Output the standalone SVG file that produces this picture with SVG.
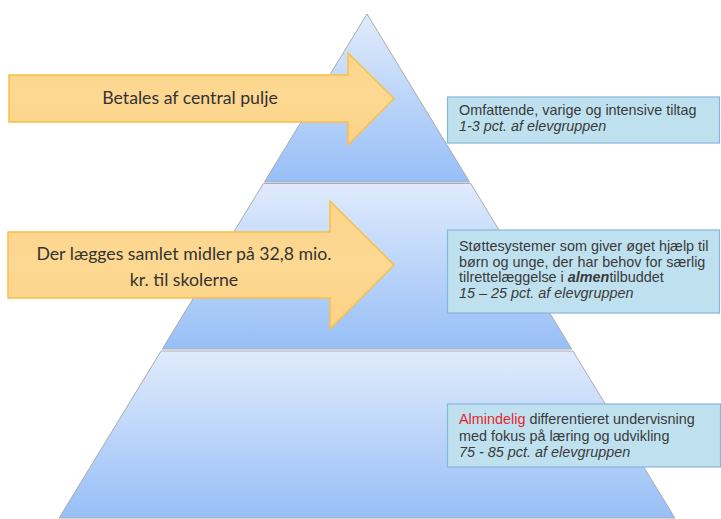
<svg xmlns="http://www.w3.org/2000/svg" width="721" height="519" viewBox="0 0 721 519">
<defs>
<linearGradient id="tierGrad" x1="0" y1="0" x2="0" y2="1">
<stop offset="0" stop-color="#e0ebfc"/>
<stop offset="1" stop-color="#97bff7"/>
</linearGradient>
<linearGradient id="arrowGrad" x1="0" y1="0" x2="0" y2="1">
<stop offset="0" stop-color="#fdd58c"/>
<stop offset="0.5" stop-color="#fdd892"/>
<stop offset="1" stop-color="#fcd184"/>
</linearGradient>
<style>
.tier{fill:url(#tierGrad);stroke:#a8acb2;stroke-width:1}
.arrow{fill:url(#arrowGrad);stroke:#f6c04a;stroke-width:1.5;stroke-linejoin:miter}
.atext{font-family:Lato,"Open Sans","Liberation Sans",sans-serif;font-size:17.7px;fill:#333333;text-anchor:middle}
.box{fill:#bfe1ef;stroke:#86b6da;stroke-width:1.2}
.btext{font-family:"Liberation Sans",Arial,sans-serif;font-size:14.4px;fill:#3a3a3a}
.it{font-style:italic}
.red{fill:#e5262d}
</style>
</defs>
<g id="pyramid">
<g id="tier-top"><polygon class="tier" points="367,14 469.6,182 264.4,182"/></g>
<g id="tier-middle"><polygon class="tier" points="263.4,183.5 470.6,183.5 571.7,349 162.3,349"/></g>
<g id="tier-bottom"><polygon class="tier" points="161.1,351 572.9,351 674.9,518 59.1,518"/></g>
</g>
<g id="arrow-1">
<polygon class="arrow" points="9,75 348,75 348,53 394,98.5 348,145 348,122 9,122"/>
<text class="atext" x="190" y="104">Betales af central pulje</text>
</g>
<g id="arrow-2">
<polygon class="arrow" points="8,232 330,232 330,201 394,265 330,329 330,298 8,298"/>
<text class="atext" x="184" y="260">Der lægges samlet midler på 32,8 mio.</text>
<text class="atext" x="184" y="286">kr. til skolerne</text>
</g>
<g id="box-top">
<rect class="box" x="447.5" y="97" width="272" height="46"/>
<text class="btext" x="459" y="115">Omfattende, varige og intensive tiltag</text>
<text class="btext it" x="459" y="131">1-3 pct. af elevgruppen</text>
</g>
<g id="box-middle">
<rect class="box" x="447.5" y="230" width="272" height="83"/>
<text class="btext" x="459" y="251">Støttesystemer som giver øget hjælp til</text>
<text class="btext" x="459" y="266.7">børn og unge, der har behov for særlig</text>
<text class="btext" x="459" y="282.3">tilrettelæggelse i <tspan font-weight="bold" font-style="italic">almen</tspan>tilbuddet</text>
<text class="btext it" x="459" y="298">15 – 25 pct. af elevgruppen</text>
</g>
<g id="box-bottom">
<rect class="box" x="447.5" y="404" width="273" height="63"/>
<text class="btext" x="459" y="423.5"><tspan class="red">Almindelig</tspan> differentieret undervisning</text>
<text class="btext" x="459" y="440.5">med fokus på læring og udvikling</text>
<text class="btext it" x="459" y="457">75 - 85 pct. af elevgruppen</text>
</g>
</svg>
